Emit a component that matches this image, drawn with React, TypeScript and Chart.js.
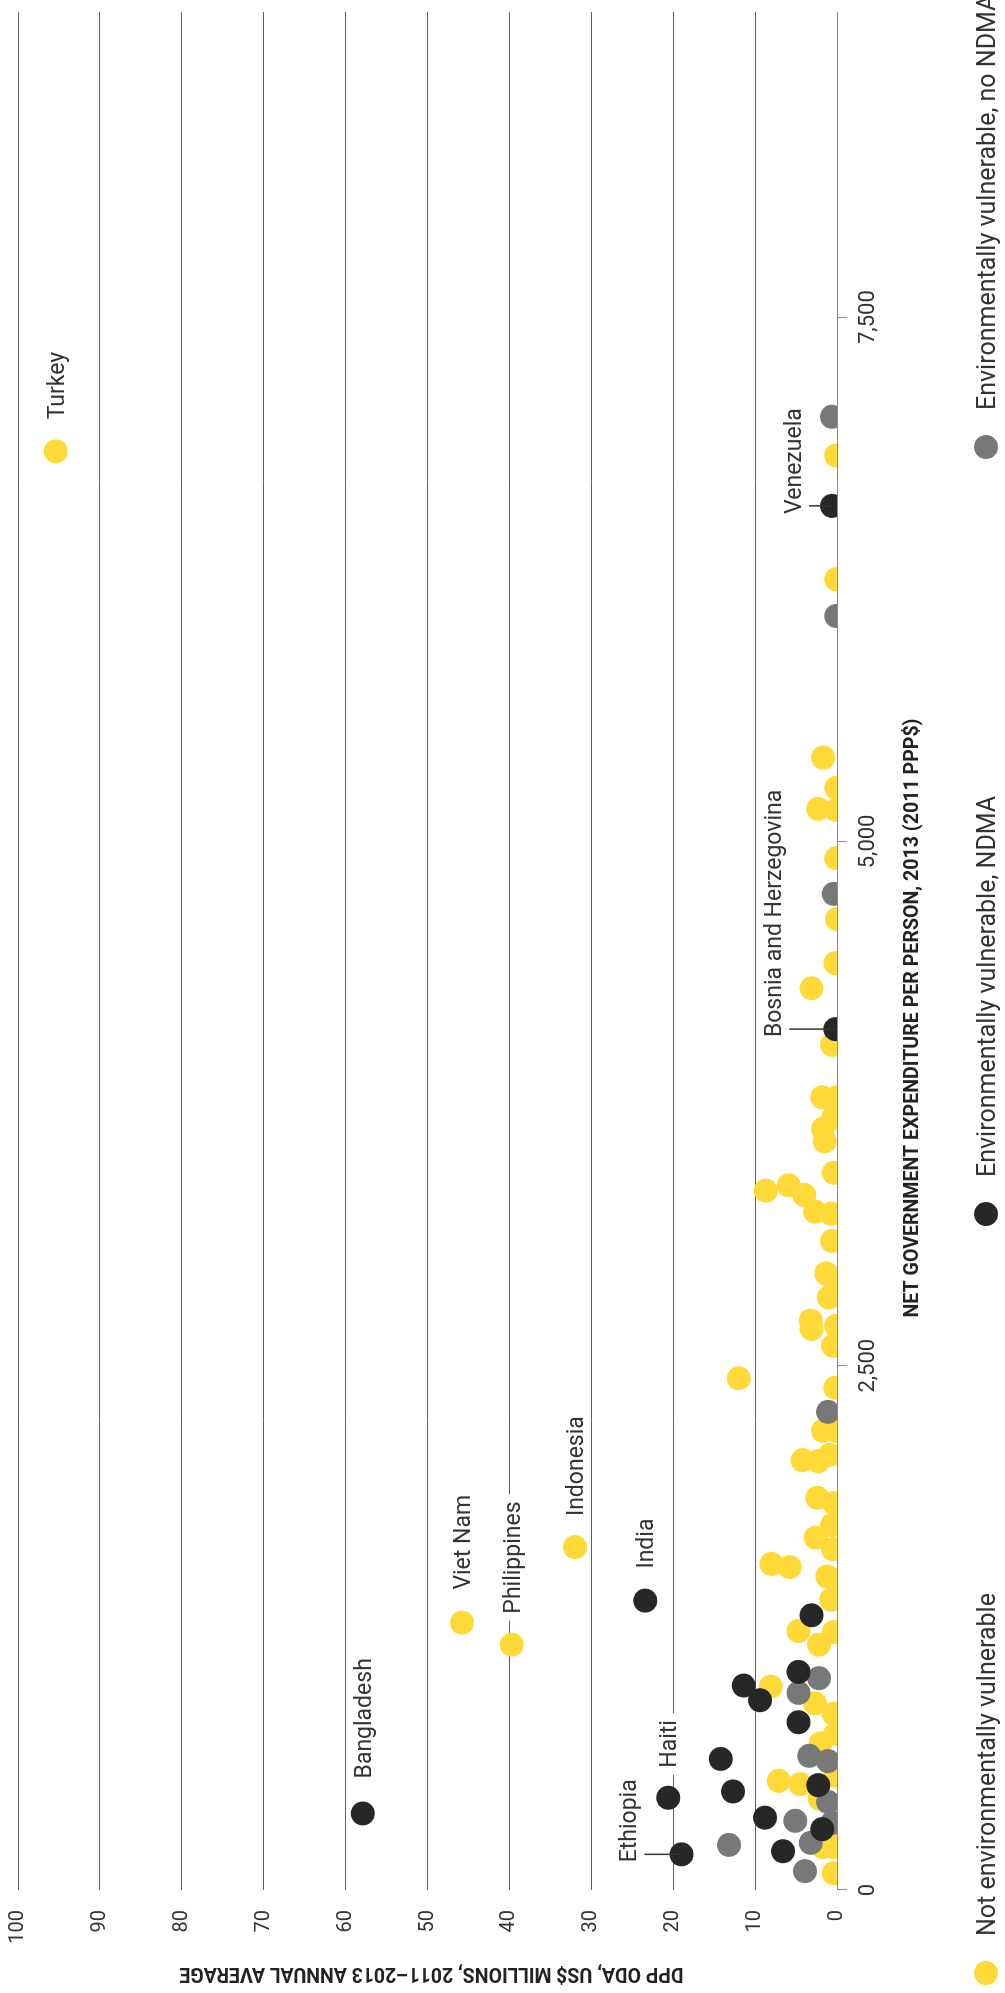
import React, { useEffect, useRef } from "react";
import { Chart, registerables } from "chart.js";

Chart.register(...registerables);

// ---------- canvas (drawn landscape, shown rotated) ----------
const W = 1993;
const H = 1005;

// ---------- axes ----------
const X_TICKS = [0, 2500, 5000, 7500];
const X_MIN = 0;
const X_MAX = 8955;
const Y_MIN = 0;
const Y_MAX = 100;
const Y_STEP = 10;

const X_TITLE = "NET GOVERNMENT EXPENDITURE PER PERSON, 2013 (2011 PPP$)";
const Y_TITLE = "DPP ODA, US$ MILLIONS, 2011–2013 ANNUAL AVERAGE";

// ---------- series ----------
const SERIES_NAMES = [
  "Not environmentally vulnerable",
  "Environmentally vulnerable, NDMA",
  "Environmentally vulnerable, no NDMA",
];
const SERIES_COLORS = ["#FFD938", "#272727", "#787878"];

// Not environmentally vulnerable (x: expenditure per person, y: DPP ODA)
const NOT_VULN_EXP = [
  6860, 1635, 1275, 1170,
  6840, 6250, 5400, 5255, 5155, 5150, 4920, 4630, 4420, 4300,
  4030, 3780, 3780, 3680, 3630, 3570, 3420, 3335, 3360, 3315,
  3235, 3225, 3095, 2940, 2910, 2825, 2715, 2675, 2690, 2595,
  2440, 2395, 2190, 2190, 2075, 2050, 2045, 1870, 1845, 1740,
  1680, 1625, 1555, 1540, 1495, 1475, 1385, 1235, 1230, 1170,
  970, 890, 840, 745, 700, 545, 520, 505, 435, 340,
  275, 205, 205, 80,
];
const NOT_VULN_ODA = [
  95.4, 32.0, 45.8, 39.7,
  0.1, 0.1, 1.7, 0.1, 2.3, 0.1, 0.1, 0, 0.2, 3.1,
  0.6, 1.8, 0, 0.5, 1.7, 1.5, 0.4, 8.7, 5.9, 4.0,
  2.7, 0.7, 0.6, 1.3, 0.4, 1.0, 3.2, 3.1, 0.1, 0.5,
  12.0, 0.2, 1.7, 0.2, 0.9, 4.2, 2.3, 2.4, 0.4, 0.6,
  2.6, 0.5, 8.0, 5.8, 1.2, 0.1, 0.7, 4.7, 0.4, 2.2,
  8.1, 2.7, 0.4, 0.2, 2.0, 0.2, 7.1, 4.5, 2.1, 0,
  0.2, 1.7, 0.4, 0.4,
];

// Environmentally vulnerable, NDMA
const NDMA_EXP = [365, 1380, 6600, 4105, 440, 170, 1310, 1040, 975, 905, 800, 625, 470, 500, 345, 290, 185];
const NDMA_ODA = [57.9, 23.4, 0.6, 0.2, 20.6, 19.0, 3.1, 4.7, 11.4, 9.4, 4.7, 14.2, 12.7, 2.3, 8.8, 1.8, 6.6];

// Environmentally vulnerable, no NDMA
const NO_NDMA_EXP = [7025, 6075, 4750, 2280, 1010, 940, 640, 615, 420, 330, 320, 215, 225, 90];
const NO_NDMA_ODA = [0.6, 0.1, 0.4, 1.1, 2.2, 4.7, 3.4, 1.1, 1.1, 5.1, 0.6, 13.2, 3.2, 3.9];

const SERIES_EXP = [NOT_VULN_EXP, NDMA_EXP, NO_NDMA_EXP];
const SERIES_ODA = [NOT_VULN_ODA, NDMA_ODA, NO_NDMA_ODA];

// ---------- country labels (series index, point index) ----------
const COUNTRY_LABELS = [
  { text: "Turkey", series: 0, index: 0 },
  { text: "Indonesia", series: 0, index: 1 },
  { text: "Viet Nam", series: 0, index: 2 },
  { text: "Philippines", series: 0, index: 3 },
  { text: "Bangladesh", series: 1, index: 0 },
  { text: "India", series: 1, index: 1 },
  { text: "Venezuela", series: 1, index: 2 },
  { text: "Bosnia and Herzegovina", series: 1, index: 3 },
  { text: "Haiti", series: 1, index: 4 },
  { text: "Ethiopia", series: 1, index: 5 },
];

// layout of labels: "right" = beside the dot; "above" = lifted with a leader line
const LABEL_LAYOUT: Record<string, { side: "right" | "above"; off: number }> = {
  Turkey: { side: "right", off: 32 },
  Indonesia: { side: "right", off: 31 },
  "Viet Nam": { side: "right", off: 33 },
  Philippines: { side: "right", off: 31 },
  Bangladesh: { side: "right", off: 35 },
  India: { side: "right", off: 32 },
  Haiti: { side: "right", off: 30 },
  Venezuela: { side: "above", off: 31 },
  "Bosnia and Herzegovina": { side: "above", off: 54 },
  Ethiopia: { side: "above", off: 45 },
};

// legend layout
const LEGEND_DOT_X = [20, 779, 1546];
const LEGEND_Y = 986;

const TEXT_COLOR = "#333333";
const GRID_COLOR = "#606060";
const ZERO_COLOR = "#8a8a8a";

function drawFitted(
  ctx: CanvasRenderingContext2D,
  text: string,
  cx: number,
  baseY: number,
  targetW: number,
  font: string
) {
  ctx.save();
  ctx.font = font;
  const w = ctx.measureText(text).width;
  const sx = targetW / w;
  ctx.translate(cx, baseY);
  ctx.scale(sx, 1);
  ctx.textAlign = "center";
  ctx.textBaseline = "alphabetic";
  ctx.fillText(text, 0, 0);
  ctx.restore();
}

const annotationPlugin = {
  id: "annotations",
  afterDatasetsDraw(chart: any) {
    const ctx: CanvasRenderingContext2D = chart.ctx;
    const xs = chart.scales.x;
    const ys = chart.scales.y;
    ctx.save();
    ctx.font = "23px Roboto";
    ctx.textBaseline = "alphabetic";
    ctx.textAlign = "left";
    COUNTRY_LABELS.forEach((l) => {
      const px = xs.getPixelForValue(SERIES_EXP[l.series][l.index]);
      const py = ys.getPixelForValue(SERIES_ODA[l.series][l.index]);
      const lay = LABEL_LAYOUT[l.text];
      const w = ctx.measureText(l.text).width;
      if (lay.side === "right") {
        const tx = px + lay.off;
        const base = py + 8;
        ctx.fillStyle = "#ffffff";
        ctx.fillRect(tx - 7, base - 21, w + 14, 28);
        ctx.fillStyle = TEXT_COLOR;
        ctx.fillText(l.text, tx, base);
      } else {
        const tx = px - 8;
        const base = py - lay.off;
        ctx.fillStyle = "#ffffff";
        ctx.fillRect(tx - 4, base - 20, w + 8, 26);
        ctx.fillStyle = TEXT_COLOR;
        ctx.fillText(l.text, tx, base);
        ctx.strokeStyle = "#333333";
        ctx.lineWidth = 1.5;
        ctx.beginPath();
        ctx.moveTo(px, base + 8);
        ctx.lineTo(px, py);
        ctx.stroke();
      }
    });
    ctx.restore();
  },
  afterDraw(chart: any) {
    const ctx: CanvasRenderingContext2D = chart.ctx;
    const area = chart.chartArea;
    ctx.save();
    ctx.fillStyle = "#222222";
    // x-axis title
    drawFitted(ctx, X_TITLE, 975, 918, 599, "bold 21px Roboto");
    // y-axis title (rotated)
    ctx.save();
    ctx.translate(25, (area.top + area.bottom) / 2 + 4);
    ctx.rotate(-Math.PI / 2);
    drawFitted(ctx, Y_TITLE, 0, 0, 504, "bold 21px Roboto");
    ctx.restore();
    // legend
    ctx.font = "25px Roboto";
    ctx.textAlign = "left";
    ctx.textBaseline = "alphabetic";
    SERIES_NAMES.forEach((name, i) => {
      const dx = LEGEND_DOT_X[i];
      ctx.fillStyle = SERIES_COLORS[i];
      ctx.beginPath();
      ctx.arc(dx, LEGEND_Y, 12, 0, Math.PI * 2);
      ctx.fill();
      ctx.fillStyle = TEXT_COLOR;
      ctx.fillText(name, dx + 37, LEGEND_Y + 9);
    });
    ctx.restore();
  },
};

export default function App() {
  const canvasRef = useRef<HTMLCanvasElement | null>(null);

  useEffect(() => {
    if (!canvasRef.current) return;
    const mk = (i: number) =>
      SERIES_EXP[i].map((v, k) => ({ x: v, y: SERIES_ODA[i][k] }));
    const chart = new Chart(canvasRef.current, {
      type: "scatter",
      data: {
        datasets: [
          {
            label: SERIES_NAMES[0],
            data: mk(0),
            backgroundColor: SERIES_COLORS[0],
            pointRadius: 12,
            borderWidth: 0,
            order: 3,
          },
          {
            label: SERIES_NAMES[1],
            data: mk(1),
            backgroundColor: SERIES_COLORS[1],
            pointRadius: 12,
            borderWidth: 0,
            order: 1,
          },
          {
            label: SERIES_NAMES[2],
            data: mk(2),
            backgroundColor: SERIES_COLORS[2],
            pointRadius: 12,
            borderWidth: 0,
            order: 2,
          },
        ],
      },
      options: {
        responsive: false,
        animation: false,
        devicePixelRatio: 1,
        layout: { padding: { top: 18, right: 0, bottom: 0, left: 0 } },
        plugins: {
          legend: { display: false },
          tooltip: { enabled: false },
        },
        scales: {
          x: {
            type: "linear",
            position: "bottom",
            min: X_MIN,
            max: X_MAX,
            afterBuildTicks: (scale: any) => {
              scale.ticks = X_TICKS.map((v) => ({ value: v }));
            },
            afterFit: (scale: any) => {
              scale.height = 168;
              scale.paddingLeft = 0;
              scale.paddingRight = 0;
            },
            grid: {
              drawOnChartArea: false,
              drawTicks: true,
              tickLength: 10,
              color: ZERO_COLOR,
              lineWidth: 1,
            },
            border: { display: false },
            ticks: {
              padding: 8,
              color: TEXT_COLOR,
              font: { family: "Roboto", size: 22 },
              maxRotation: 0,
              callback: (v: any) => Number(v).toLocaleString("en-US"),
            },
          },
          y: {
            type: "linear",
            position: "left",
            min: Y_MIN,
            max: Y_MAX,
            afterFit: (scale: any) => {
              scale.width = 103;
              scale.paddingTop = 0;
              scale.paddingBottom = 0;
            },
            grid: {
              drawTicks: false,
              color: (c: any) => (c.tick && c.tick.value === 0 ? ZERO_COLOR : GRID_COLOR),
              lineWidth: 1,
            },
            border: { display: false },
            ticks: {
              stepSize: Y_STEP,
              padding: 20,
              color: TEXT_COLOR,
              font: { family: "Roboto", size: 20 },
            },
          },
        },
      },
      plugins: [annotationPlugin],
    } as any);
    return () => chart.destroy();
  }, []);

  return (
    <div
      style={{
        position: "absolute",
        left: 0,
        top: 0,
        width: H,
        height: W,
        overflow: "hidden",
        background: "#ffffff",
      }}
    >
      <div
        style={{
          position: "absolute",
          left: 0,
          top: 0,
          width: W,
          height: H,
          transformOrigin: "0 0",
          transform: `translateY(${W}px) rotate(-90deg)`,
        }}
      >
        <canvas
          ref={canvasRef}
          width={W}
          height={H}
          style={{ width: W, height: H, display: "block" }}
        />
      </div>
    </div>
  );
}
